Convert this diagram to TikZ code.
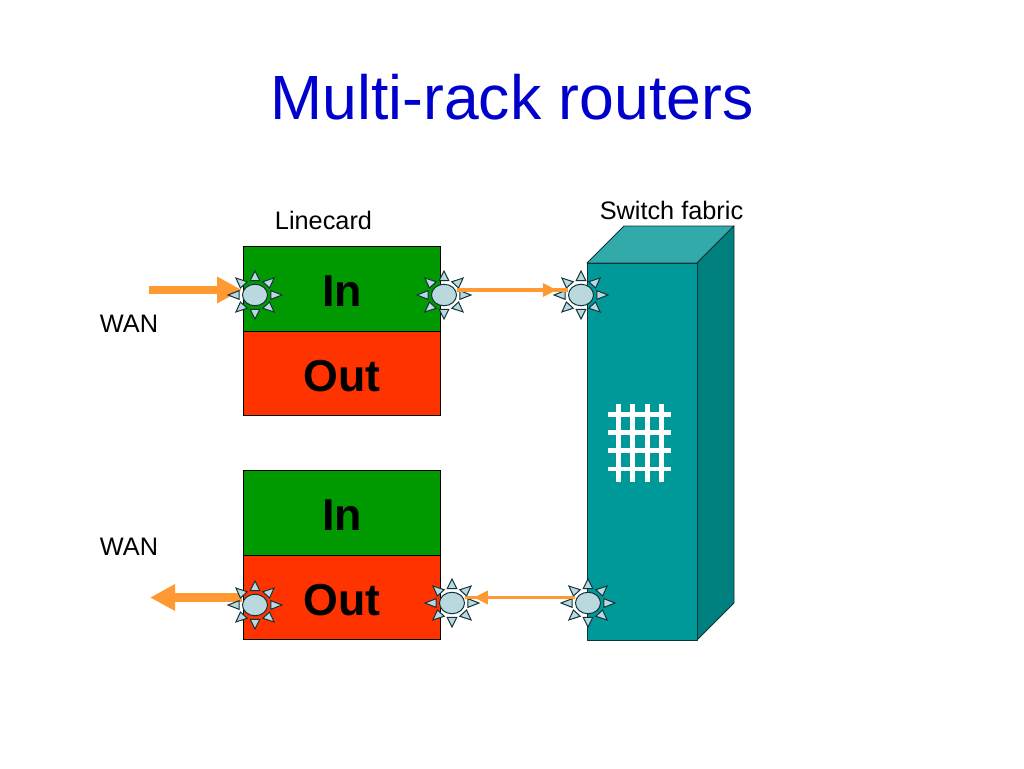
\documentclass[tikz,border=0pt]{standalone}
\usepackage{fontspec}
\setmainfont{Liberation Sans}
\usetikzlibrary{arrows.meta,shapes.geometric,decorations.markings,backgrounds}
\definecolor{titleblue}{HTML}{0000CC}
\definecolor{cardgreen}{HTML}{009900}
\definecolor{cardred}{HTML}{FF3300}
\definecolor{wireorange}{HTML}{FF9933}
\definecolor{fabricfront}{HTML}{009999}
\definecolor{fabrictop}{HTML}{33AAAA}
\definecolor{fabricside}{HTML}{007F7F}
\definecolor{portblue}{HTML}{B9D9DF}
\definecolor{portline}{HTML}{12323A}
% port = ellipse with eight spikes round it
\newcommand{\portstar}[3]{
    \foreach \a in {0,45,...,315}
        \draw[spike,shift={(#2,#3)}] (\a:27 and 24) -- (\a-17:16.5 and 15) -- (\a+17:16.5 and 15) -- cycle;
    \node[port] (#1) at (#2,#3) {};
}
\begin{document}
\begin{tikzpicture}[x=1pt,y=-1pt]
    \tikzset{label/.style = {font=\fontsize{25.3}{30}\selectfont,inner sep=0pt}}
    \tikzset{card/.style = {shape=rectangle,draw=black,line width=0.8pt,minimum width=197.5pt,minimum height=84.5pt,inner sep=0pt,text height=35.5pt,text depth=0pt,font=\fontsize{44.7}{50}\selectfont\bfseries}}
    \tikzset{spike/.style = {draw=portline,fill=portblue,line width=1pt,line join=miter}}
    \tikzset{port/.style = {shape=ellipse,draw=portline,fill=portblue,line width=1pt,minimum width=25pt,minimum height=21.5pt,inner sep=0pt}}
    \tikzset{wanwire/.style = {draw=wireorange,line width=8.5pt,-{Triangle[length=25pt,width=25pt,fill=wireorange]}}}
    \tikzset{fabricwire/.style = {draw=wireorange,line width=3.3pt,postaction={decorate},
        decoration={markings,mark=at position #1 with {\arrow{Triangle[length=14pt,width=13pt,fill=wireorange]}}}}}
    \tikzset{fabricface/.style = {draw=portline,line width=0.9pt,line join=round}}
    \tikzset{gridline/.style = {draw=white,line width=4.6pt}}
    \useasboundingbox (0,0) rectangle (1024,768);
    \node[font=\fontsize{62.5}{70}\selectfont,text=titleblue,inner sep=0pt] (title) at (512,97.5) {Multi-rack routers};
    \node[label] (linecard) at (323.5,220) {Linecard};
    \node[label] (switchfabric) at (671.5,210) {Switch fabric};
    \node[label] (wantop) at (129,324) {WAN};
    \node[label] (wanbottom) at (129,547) {WAN};
    %linecards
    \node[card,fill=cardgreen] (intop) at (342,289) {In};
    \node[card,fill=cardred] (outtop) at (342,373.5) {Out};
    \node[card,fill=cardgreen] (inbottom) at (342,513) {In};
    \node[card,fill=cardred] (outbottom) at (342,597.5) {Out};
    %fabric
    \draw[fabricface,fill=fabrictop] (587,263) -- (624,226) -- (734,226) -- (697,263) -- cycle;
    \draw[fabricface,fill=fabricside] (697,263) -- (734,226) -- (734,603) -- (697,640) -- cycle;
    \draw[fabricface,fill=fabricfront] (587,263) rectangle (697,640);
    \foreach \x in {618.3,632.7,647.3,661.7}
        \draw[gridline] (\x,404) -- (\x,482);
    \foreach \y in {414.3,432.7,450.7,469}
        \draw[gridline] (608,\y) -- (671,\y);
    %ports
    \portstar{portina}{255}{295}
    \portstar{portinb}{444}{295}
    \portstar{portfabin}{581}{295}
    \portstar{portfabout}{588}{603}
    \portstar{portoutb}{452}{603}
    \portstar{portouta}{255}{605}
    %wires
    \coordinate (wanin) at (149,290);
    \coordinate (wanout) at (150,597.5);
    \begin{pgfonlayer}{background}
        \draw[wanwire] (wanin) -- (wanin -| portina.west);
        \draw[wanwire] (wanout -| portouta.west) -- (wanout);
    \end{pgfonlayer}
    \draw[fabricwire=0.9] ([yshift=5pt]portinb.east) -- ([yshift=5pt]portfabin.west);
    \draw[fabricwire=0.92] ([yshift=5.5pt]portfabout.west) -- ([yshift=5.5pt]portoutb.east);
\end{tikzpicture}
\end{document}
